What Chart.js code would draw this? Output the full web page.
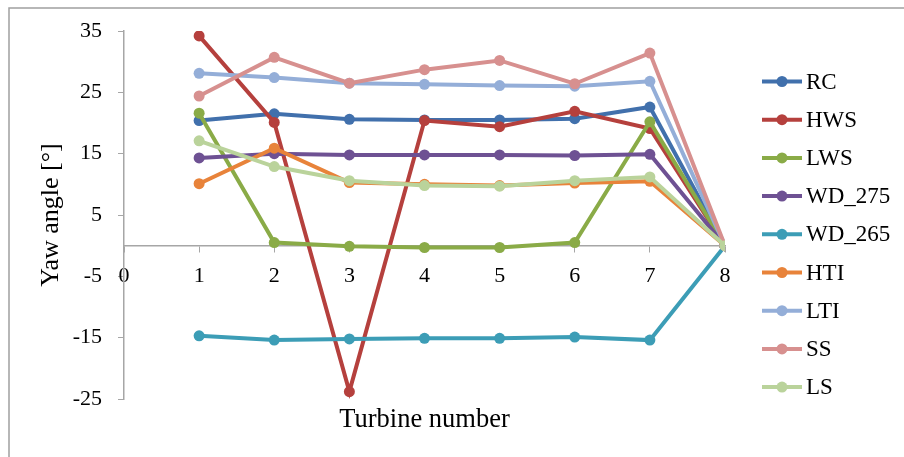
<!DOCTYPE html>
<html>
<head>
<meta charset="utf-8">
<script src="https://cdn.jsdelivr.net/npm/chart.js@4"></script>
<style>
  html, body { margin: 0; padding: 0; background: #fff; }
  #wrap { width: 904px; height: 457px; }
</style>
</head>
<body>
<div id="wrap"><canvas id="graficoYaw" width="904" height="457"></canvas></div>
<script>
// turbine positions along the row
const turbinas = [1, 2, 3, 4, 5, 6, 7, 8];

// yaw angle per case
const rc    = [20.4, 21.5, 20.6, 20.5, 20.5, 20.7, 22.6, 0];
const hws   = [34.2, 20.1, -23.8, 20.4, 19.4, 21.9, 19.1, 0];
const lws   = [21.6, 0.5, -0.1, -0.3, -0.3, 0.5, 20.2, 0];
const wd275 = [14.3, 15.0, 14.8, 14.8, 14.8, 14.7, 14.9, 0];
const wd265 = [-14.7, -15.4, -15.2, -15.1, -15.1, -14.9, -15.4, 0];
const hti   = [10.1, 15.9, 10.3, 10.0, 9.8, 10.2, 10.5, 0];
const lti   = [28.1, 27.4, 26.5, 26.3, 26.1, 26.0, 26.8, 0];
const ss    = [24.4, 30.7, 26.5, 28.7, 30.2, 26.4, 31.4, 0];
const ls    = [17.1, 12.9, 10.6, 9.8, 9.7, 10.6, 11.2, 0];

const nomes = ['RC', 'HWS', 'LWS', 'WD_275', 'WD_265', 'HTI', 'LTI', 'SS', 'LS'];
const series = [rc, hws, lws, wd275, wd265, hti, lti, ss, ls];
const cores = ['#4170AC', '#B5403D', '#8AAB47', '#6E5193', '#3C9DB6', '#E8833A', '#94AED8', '#D7908F', '#BAD39B'];

const yTicks = [-25, -15, -5, 5, 15, 25, 35];

const fonte = 'Liberation Serif, Times New Roman, serif';
const corEixo = '#a6a6a6';

// moldura cinza em volta do gráfico
const moldura = {
    id: 'moldura',
    beforeDraw(chart) {
        const ctx = chart.ctx;
        ctx.save();
        ctx.fillStyle = '#fff';
        ctx.fillRect(0, 0, chart.width, chart.height);
        ctx.strokeStyle = '#a0a0a0';
        ctx.lineWidth = 1.5;
        ctx.strokeRect(9, 8, chart.width + 10, chart.height + 10);
        ctx.restore();
    }
};

// legenda à direita: linha com marcador + nome da série
const legenda = {
    id: 'legenda',
    afterDraw(chart) {
        const ctx = chart.ctx;
        ctx.save();
        ctx.font = '23px ' + fonte;
        ctx.textBaseline = 'middle';
        chart.data.datasets.forEach((ds, i) => {
            const y = 81.5 + i * 38.2;
            ctx.strokeStyle = ds.borderColor;
            ctx.lineWidth = 4;
            ctx.beginPath();
            ctx.moveTo(762, y);
            ctx.lineTo(802, y);
            ctx.stroke();
            ctx.fillStyle = ds.borderColor;
            ctx.beginPath();
            ctx.arc(782, y, 5.5, 0, Math.PI * 2);
            ctx.fill();
            ctx.fillStyle = '#000';
            ctx.fillText(ds.label, 806, y + 1);
        });
        ctx.restore();
    }
};

function inicializarGrafico() {
    const ctx = document.getElementById('graficoYaw').getContext('2d');
    new Chart(ctx, {
        type: 'line',
        data: {
            datasets: series.map((valores, i) => ({
                label: nomes[i],
                data: valores.map((v, k) => ({ x: turbinas[k], y: v })),
                borderColor: cores[i],
                backgroundColor: cores[i],
                borderWidth: 4,
                pointRadius: 5.5,
                pointBorderWidth: 0,
                pointBackgroundColor: cores[i],
                tension: 0,
                order: series.length - i // última série fica por cima
            }))
        },
        options: {
            responsive: false,
            animation: false,
            events: [],
            layout: { padding: { left: 10, top: 31, right: 179, bottom: 58 } },
            plugins: {
                legend: { display: false },
                tooltip: { enabled: false }
            },
            scales: {
                x: {
                    type: 'linear',
                    position: { y: 0 },
                    min: 0,
                    max: 8,
                    ticks: { stepSize: 1, padding: 11, color: '#000', font: { family: fonte, size: 22 } },
                    grid: { drawOnChartArea: false, drawTicks: true, tickLength: 6, color: corEixo },
                    border: { color: corEixo, width: 1.5 },
                    title: { display: true, text: 'Turbine number', color: '#000', font: { family: fonte, size: 26.5 }, padding: 0 },
                    afterFit(scale) { scale.height = 190; }
                },
                y: {
                    min: -25,
                    max: 35,
                    afterBuildTicks(scale) { scale.ticks = yTicks.map(v => ({ value: v })); },
                    ticks: { padding: 16, color: '#000', font: { family: fonte, size: 22 } },
                    grid: { drawOnChartArea: false, drawTicks: true, tickLength: 6, color: corEixo },
                    border: { color: corEixo, width: 1.5 },
                    title: { display: true, text: 'Yaw angle [°]', color: '#000', font: { family: fonte, size: 26 }, padding: { top: 26, bottom: 0 } },
                    afterFit(scale) { scale.width = 114; }
                }
            }
        },
        plugins: [moldura, legenda]
    });
}

window.onload = inicializarGrafico;
</script>
</body>
</html>
